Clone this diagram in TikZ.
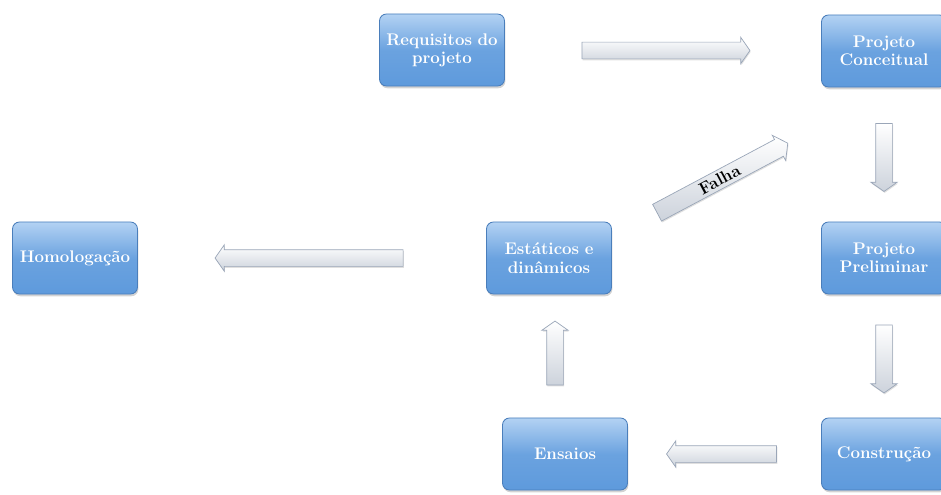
\documentclass[tikz,border=0pt]{standalone}
\usepackage{tikz}
\usetikzlibrary{calc,shapes.arrows,shadows}
\definecolor{boxtop}{HTML}{B3D2F3}
\definecolor{boxbot}{HTML}{5E9ADC}
\definecolor{boxline}{HTML}{4A7EBB}
\definecolor{arrline}{HTML}{9AA6B8}
\tikzset{
  etapa/.style={rectangle, rounded corners=5pt, draw=boxline, line width=0.6pt,
    top color=boxtop, bottom color=boxbot, middle color=boxbot!85!boxtop,
    minimum width=3.125cm, minimum height=1.8cm, text width=3.1cm, inner xsep=0pt, align=center,
    text=white, font=\fontsize{12}{13}\selectfont\bfseries,
    drop shadow={shadow xshift=0.6pt, shadow yshift=-1.6pt, opacity=0.35}},
  seta/.style={single arrow, draw=arrline, line width=0.5pt,
    top color=white, bottom color=arrline!50, shading angle=0,
    inner xsep=0pt, inner ysep=0.2cm, single arrow head extend=0.12cm, single arrow tip angle=110,
    outer sep=0pt,
    drop shadow={shadow xshift=0.5pt, shadow yshift=-1pt, opacity=0.25}}
}
\begin{document}
\begin{tikzpicture}[x=0.025cm, y=-0.025cm]
			%%%%% START %%%%%
			\useasboundingbox (0, 0) rectangle (941, 494);
			
			\node[etapa] (req) at (442, 50) {Requisitos do\\ projeto};
			\node[etapa] (conc) at (884, 51) {Projeto\\ Conceitual};
			\node[etapa] (prel) at (884, 258) {Projeto\\ Preliminar};
			\node[etapa] (cons) at (884, 454) {Constru\c{c}\~ao};
			\node[etapa] (ens) at (565, 454) {Ensaios};
			\node[etapa] (est) at (549, 258) {Est\'aticos e\\ din\^amicos};
			\node[etapa] (hom) at (75, 258) {Homologa\c{c}\~ao};
			
			\node[seta, minimum height=4.2cm] (s1) at ($(req)!0.5!(conc)$) {};
			\node[seta, minimum height=1.7cm, rotate=-90] (s2) at ($(conc)!0.5!(prel)$) {};
			\node[seta, minimum height=1.7cm, rotate=-90] (s3) at ($(prel)!0.5!(cons)$) {};
			\node[seta, minimum height=2.75cm, rotate=180] (s4) at ($(cons)!0.5!(ens)$) {};
			\node[seta, minimum height=1.6cm, rotate=90] (s5) at (555, 356) {};
			\node[seta, minimum height=4.7cm, rotate=180] (s6) at ($(est)!0.5!(hom)$) {};
			
			% falha
			\node[seta, minimum height=3.7cm, rotate=28, inner ysep=0.08cm, font=\fontsize{12}{12}\selectfont\bfseries]
			  (falha) at ($($(est.north east)!0.5!(conc.south west)$)+(3, 25)$) {Falha};
			
			%%%%% END %%%%%
\end{tikzpicture}
\end{document}
